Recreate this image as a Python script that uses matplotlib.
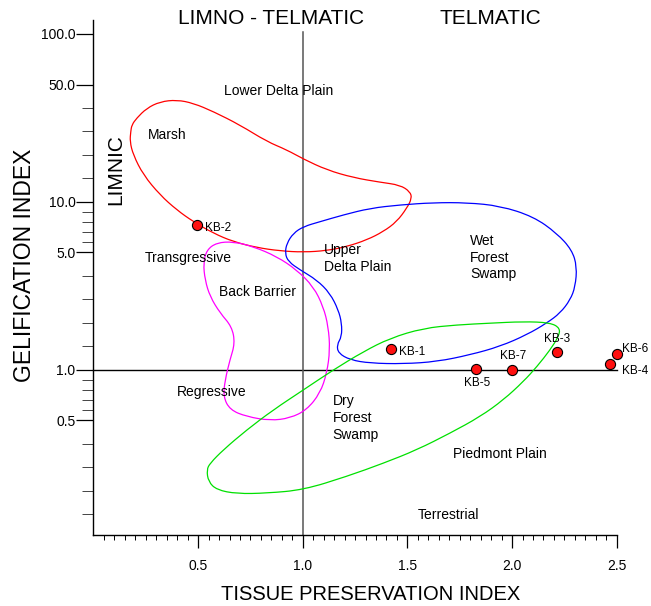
import numpy as np
import matplotlib
matplotlib.use("Agg")
import matplotlib.pyplot as plt
from matplotlib.ticker import FixedLocator, FixedFormatter, NullFormatter
from matplotlib.path import Path
from matplotlib.patches import PathPatch

plt.rcParams['font.family'] = ['Liberation Sans', 'DejaVu Sans']

# ---------------- data ----------------
sample_names = ["KB-1", "KB-2", "KB-3", "KB-4", "KB-5", "KB-6", "KB-7"]
tpi = [1.422, 0.493, 2.214, 2.469, 1.827, 2.501, 1.999]
gi = [1.328, 7.27, 1.285, 1.081, 1.014, 1.245, 1.004]

# facies field outlines (TPI, GI)
marsh_tpi = [0.178, 0.183, 0.206, 0.254, 0.318, 0.398, 0.477, 0.573, 0.700, 0.828, 0.924,
             1.003, 1.115, 1.242, 1.370, 1.465, 1.513, 1.521, 1.497, 1.449, 1.385, 1.306,
             1.210, 1.115, 1.003, 0.891, 0.780, 0.668, 0.573, 0.477, 0.398, 0.318, 0.238,
             0.190, 0.174]
marsh_gi = [26.2, 28.7, 31.5, 36.1, 39.5, 40.5, 38.7, 34.5, 28.7, 22.9, 20.4,
            18.0, 15.5, 13.95, 13.1, 12.6, 11.5, 10.5, 9.17, 7.63, 6.66, 5.94,
            5.42, 5.13, 5.02, 5.11, 5.35, 5.80, 6.51, 7.63, 8.96, 11.0, 14.5,
            19.05, 22.9]

wet_tpi = [0.915, 0.924, 0.955, 1.003, 1.083, 1.194, 1.322, 1.465, 1.624, 1.784, 1.943,
           2.102, 2.214, 2.286, 2.310, 2.302, 2.278, 2.230, 2.166, 2.071, 1.943, 1.800,
           1.641, 1.481, 1.322, 1.226, 1.170, 1.163, 1.186, 1.186, 1.170, 1.130, 1.067,
           0.987, 0.931]
wet_gi = [4.95, 5.68, 6.51, 7.13, 7.63, 8.37, 9.17, 9.60, 9.90, 9.90, 9.47,
          8.18, 6.51, 5.18, 4.12, 3.13, 2.61, 2.18, 1.90, 1.62, 1.38, 1.23,
          1.12, 1.086, 1.096, 1.147, 1.257, 1.409, 1.578, 1.897, 2.275, 2.86, 3.43,
          3.94, 4.41]

back_tpi = [0.525, 0.541, 0.589, 0.668, 0.764, 0.876, 0.971, 1.051, 1.098, 1.122, 1.130,
            1.115, 1.083, 1.019, 0.939, 0.844, 0.732, 0.652, 0.620, 0.629, 0.652, 0.676,
            0.661, 0.605, 0.557, 0.533]
back_gi = [4.32, 5.18, 5.72, 5.80, 5.42, 4.73, 3.94, 3.13, 2.38, 1.81, 1.315,
           0.956, 0.727, 0.578, 0.516, 0.499, 0.527, 0.578, 0.694, 0.872, 1.147, 1.442,
           1.81, 2.18, 2.73, 3.43]

dry_tpi = [0.541, 0.557, 0.620, 0.732, 0.859, 1.003, 1.146, 1.290, 1.417, 1.576, 1.736,
           1.895, 2.054, 2.182, 2.230, 2.222, 2.182, 2.119, 2.054, 1.959, 1.848, 1.704,
           1.545, 1.385, 1.210, 1.003, 0.828, 0.685, 0.589, 0.549]
dry_gi = [0.254, 0.278, 0.334, 0.439, 0.578, 0.760, 1.0, 1.285, 1.544, 1.771, 1.853,
          1.897, 1.939, 1.912, 1.771, 1.578, 1.315, 1.046, 0.852, 0.663, 0.527, 0.420,
          0.334, 0.278, 0.232, 0.193, 0.1845, 0.183, 0.193, 0.216]

field_labels = ["Lower Delta Plain", "Marsh", "Transgressive", "Upper\nDelta Plain",
                "Wet\nForest\nSwamp", "Back Barrier", "Regressive", "Dry\nForest\nSwamp",
                "Piedmont Plain", "Terrestrial"]
field_label_tpi = [0.887, 0.353, 0.243, 1.103, 1.800, 0.783, 0.563, 1.143, 1.943, 1.696]
field_label_gi = [45.8, 25.1, 4.62, 4.59, 4.66, 2.92, 0.737, 0.516, 0.316, 0.137]
field_label_ha = ["center", "center", "left", "left", "left", "center", "center", "left",
                  "center", "center"]

x_major = [0.5, 1.0, 1.5, 2.0, 2.5]
x_major_labels = ["0.5", "1.0", "1.5", "2.0", "2.5"]
y_major = [0.5, 1.0, 5.0, 10.0, 50.0, 100.0]
y_major_labels = ["0.5", "1.0", "5.0", "10.0", "50.0", "100.0"]

# ---------------- figure ----------------
fig = plt.figure(figsize=(6.51, 6.06), dpi=100)
ax = fig.add_axes([0.1436, 0.1172, 0.8037, 0.8498])
ax.set_yscale('log')
ax.set_xlim(0, 2.5)
ax.set_ylim(0.104, 121.1)

for s in ['top', 'right']:
    ax.spines[s].set_visible(False)
for s in ['left', 'bottom']:
    ax.spines[s].set_linewidth(1.0)

# ticks
ax.xaxis.set_major_locator(FixedLocator(x_major))
ax.xaxis.set_major_formatter(FixedFormatter(x_major_labels))
x_minor = [k * 0.05 for k in range(1, 50) if k % 10 != 0]
ax.xaxis.set_minor_locator(FixedLocator(x_minor))
ax.tick_params(axis='x', which='major', direction='out', length=9.5, width=0.9,
               labelsize=10, pad=8)
ax.tick_params(axis='x', which='minor', direction='out', length=3.6, width=0.7)

ax.yaxis.set_major_locator(FixedLocator(y_major))
ax.yaxis.set_major_formatter(FixedFormatter(y_major_labels))
bounds = [(0.1, 0.5), (0.5, 1.0), (1.0, 5.0), (5.0, 10.0), (10.0, 50.0)]
y_minor = []
for lo, hi in bounds:
    for k in range(1, 5):
        y_minor.append(lo * (hi / lo) ** (k / 5))
ax.yaxis.set_minor_locator(FixedLocator(y_minor))
ax.yaxis.set_minor_formatter(NullFormatter())
ax.tick_params(axis='y', which='major', direction='out', length=12, width=0.9,
               labelsize=10, pad=1)
ax.tick_params(axis='y', which='minor', direction='out', length=7.7, width=0.7,
               color='#444444')

# reference lines
ax.plot([0, 2.5], [1.0, 1.0], color='black', lw=1.0, zorder=2, clip_on=False)
ax.plot([1.0, 1.0], [0.104, 103], color='#555555', lw=1.1, zorder=2, clip_on=False)


# field outlines: smooth closed curves (quadratic B-spline through traced vertices)
def smooth_closed_path(xs, ys):
    n = len(xs)
    verts, codes = [], []
    for i in range(n):
        j = (i + 1) % n
        mx = 0.5 * (xs[i] + xs[j])
        my = np.sqrt(ys[i] * ys[j])
        if i == 0:
            verts.append((mx, my))
            codes.append(Path.MOVETO)
        else:
            verts.append((xs[i], ys[i]))
            codes.append(Path.CURVE3)
            verts.append((mx, my))
            codes.append(Path.CURVE3)
    verts.append((xs[0], ys[0]))
    codes.append(Path.CURVE3)
    verts.append(verts[0])
    codes.append(Path.CURVE3)
    return Path(verts, codes)


for xs, ys, c in [(marsh_tpi, marsh_gi, '#FF0000'),
                  (wet_tpi, wet_gi, '#0000FF'),
                  (back_tpi, back_gi, '#FF00FF'),
                  (dry_tpi, dry_gi, '#00E000')]:
    patch = PathPatch(smooth_closed_path(xs, ys), facecolor='none', edgecolor=c,
                      lw=0.9, zorder=3)
    ax.add_patch(patch)

# field labels
for lab, xv, yv, ha in zip(field_labels, field_label_tpi, field_label_gi, field_label_ha):
    ax.text(xv, yv, lab, ha=ha, va='center', fontsize=10, linespacing=1.25, zorder=4)

# samples
ax.plot(tpi, gi, 'o', ms=7.3, mfc='#FF1010', mec='black', mew=0.8, zorder=5,
        clip_on=False)
offsets = {"KB-1": (6, -1.7, 'left'), "KB-2": (6, -1.7, 'left'),
           "KB-3": (0.4, 9.4, 'center'), "KB-4": (8.4, -4.8, 'left'),
           "KB-5": (0.7, -9.9, 'center'), "KB-6": (4, 3.8, 'left'),
           "KB-7": (1.2, 9.9, 'center')}
for name, xv, yv in zip(sample_names, tpi, gi):
    dx, dy, ha = offsets[name]
    ax.annotate(name, (xv, yv), xytext=(dx, dy), textcoords='offset points',
                ha=ha, va='center', fontsize=8.5, zorder=6, annotation_clip=False)

# axis titles and zone names
fig.text(371 / 651, 1 - 594 / 606, "TISSUE PRESERVATION INDEX", ha='center', va='center',
         fontsize=14.5)
fig.text(25 / 651, 1 - 265 / 606, "GELIFICATION INDEX", ha='center', va='center',
         fontsize=16.5, rotation=90)
ax.text(0.106, 15.5, "LIMNIC", rotation=90, ha='center', va='center', fontsize=15)
fig.text(271.5 / 651, 1 - 18 / 606, "LIMNO - TELMATIC", ha='center', va='center',
         fontsize=15)
fig.text(490 / 651, 1 - 18 / 606, "TELMATIC", ha='center', va='center', fontsize=15)

fig.savefig("out.png", dpi=100)
